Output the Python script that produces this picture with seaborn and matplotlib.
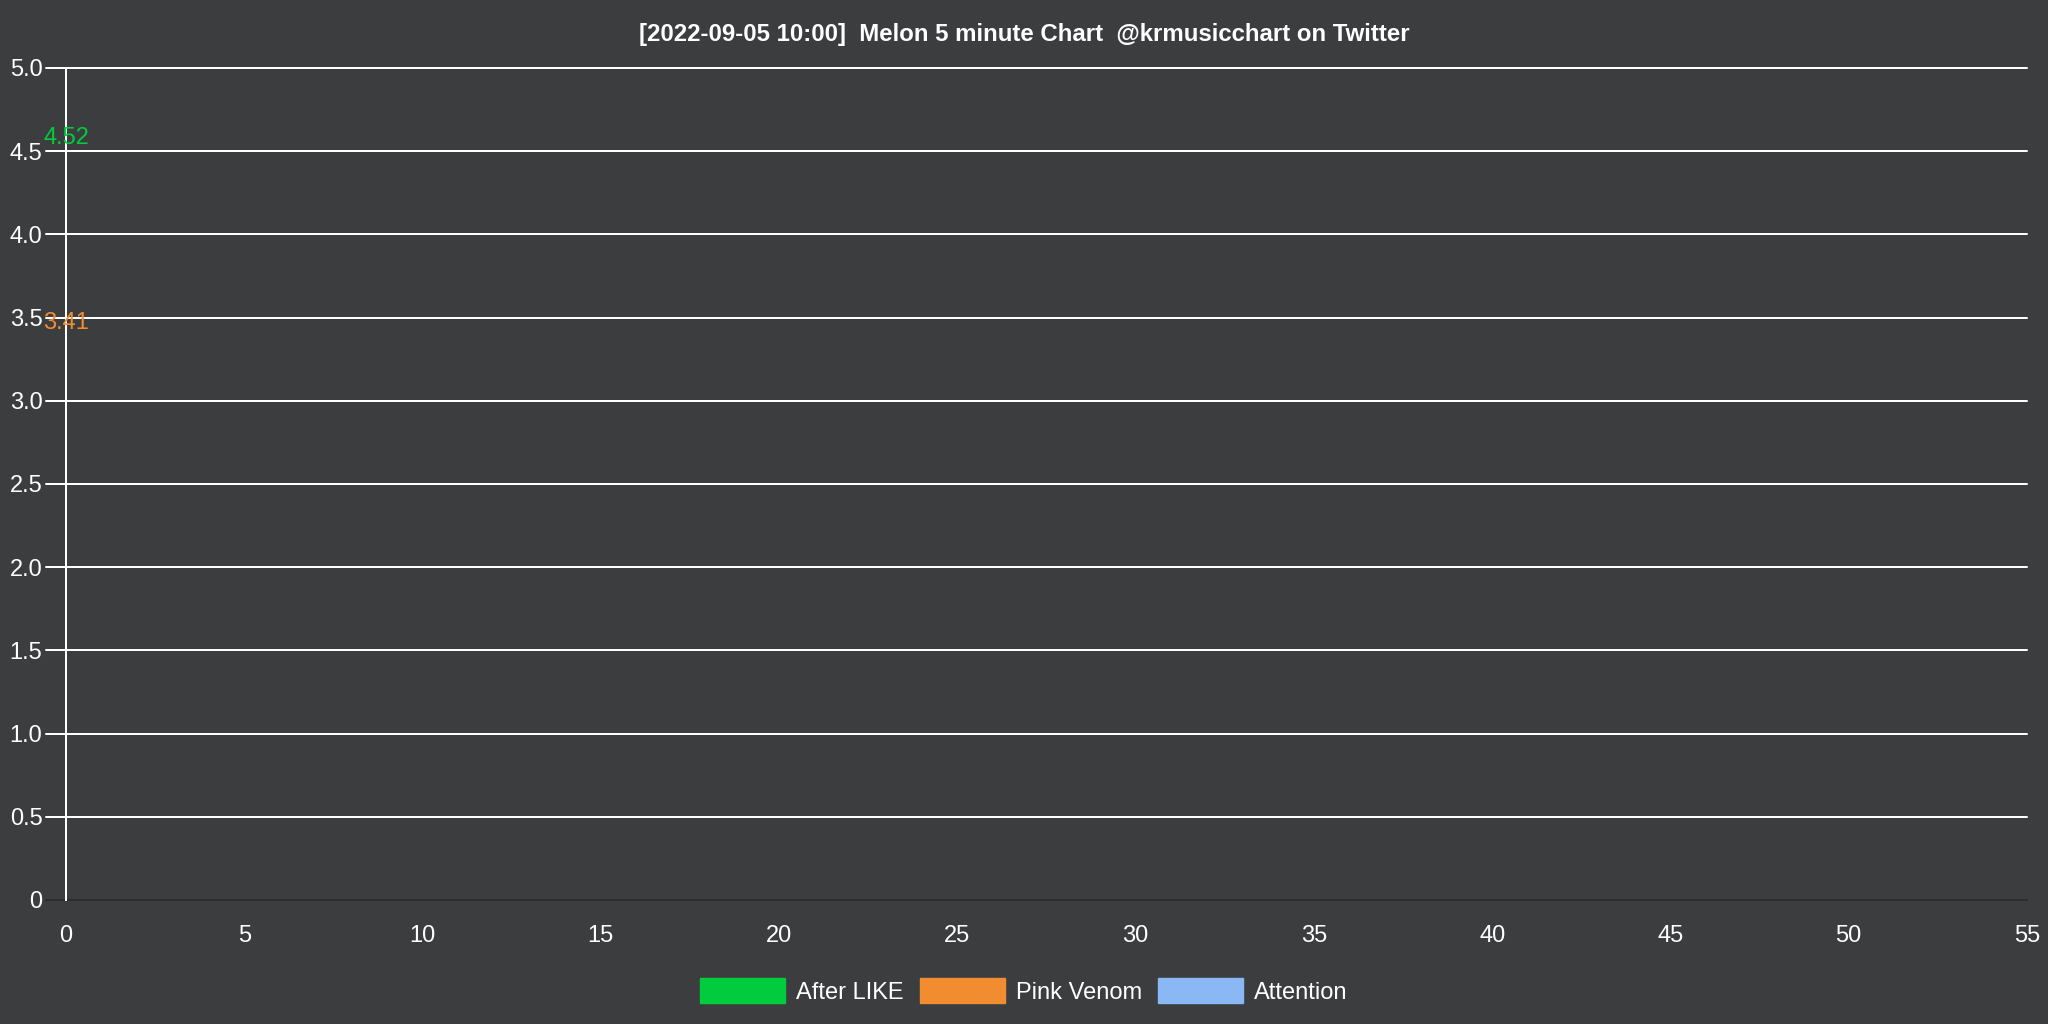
import matplotlib
matplotlib.use("Agg")
import matplotlib.pyplot as plt
from matplotlib.patches import Patch
import pandas as pd
import seaborn as sns

# data
songs = ["After LIKE", "Pink Venom", "Attention"]
colors = ["#00cc3e", "#f28c30", "#8ab8f5"]
minutes = [[0], [0], []]
values = [[4.52], [3.41], []]

title = "[2022-09-05 10:00]  Melon 5 minute Chart  @krmusicchart on Twitter"
yticks = [0, 0.5, 1.0, 1.5, 2.0, 2.5, 3.0, 3.5, 4.0, 4.5, 5.0]
ytick_labels = ["0", "0.5", "1.0", "1.5", "2.0", "2.5", "3.0", "3.5", "4.0", "4.5", "5.0"]
xticks = list(range(0, 56, 5))

bg = "#3c3d3f"
zero_line = "#2c2c2e"

rows = []
for s, xs, vs in zip(songs, minutes, values):
    for x, v in zip(xs, vs):
        rows.append({"song": s, "minute": x, "value": v})
df = pd.DataFrame(rows, columns=["song", "minute", "value"])

sns.set_theme(style="dark")
plt.rcParams["font.family"] = ["Liberation Sans", "DejaVu Sans"]

fig = plt.figure(figsize=(20.48, 10.24), dpi=100, facecolor=bg)
ax_w = (2027 - 66) / 2048
ax = fig.add_axes([66 / 2048, 1 - 900 / 1024, ax_w, (900 - 68) / 1024])
ax.set_facecolor(bg)

sns.lineplot(data=df, x="minute", y="value", hue="song", hue_order=songs,
             palette=dict(zip(songs, colors)), ax=ax, legend=False, linewidth=2)

for s, c, xs, vs in zip(songs, colors, minutes, values):
    for x, v in zip(xs, vs):
        ax.annotate(f"{v:.2f}", (x, v), xytext=(0, -1), textcoords="offset points",
                    ha="center", va="bottom", color=c, fontsize=17, zorder=5)

ax.set_xlim(0, 55)
ax.set_ylim(0, 5)
ax.set_xticks(xticks)
ax.set_xticklabels([str(t) for t in xticks])
ax.set_yticks(yticks)
ax.set_yticklabels(ytick_labels)
ax.set_xlabel("")
ax.set_ylabel("")

# grid lines run a little past the y axis, like tick marks
tick_frac = 20 / (ax_w * 2048)
for t in yticks:
    ax.axhline(t, xmin=-tick_frac, xmax=1, color="white" if t else zero_line,
               linewidth=1.44, zorder=1, clip_on=False)

for side in ["top", "right", "bottom"]:
    ax.spines[side].set_visible(False)
ax.spines["left"].set_color("white")
ax.spines["left"].set_linewidth(1.44)
ax.spines["left"].set_zorder(3)

ax.tick_params(axis="y", colors="white", labelsize=17, length=0, pad=17)
ax.tick_params(axis="x", colors="white", labelsize=17, length=0, pad=18)
ax.grid(False)

fig.text(0.5, 1 - 35 / 1024, title, ha="center", va="center",
         color="white", fontsize=17.3, fontweight="bold")

handles = [Patch(facecolor=c, edgecolor=c, label=s) for s, c in zip(songs, colors)]
leg = fig.legend(handles=handles, loc="center", bbox_to_anchor=(0.5, 1 - 991 / 1024),
                 ncol=3, frameon=False, fontsize=17, handlelength=3.6,
                 handleheight=1.27, handletextpad=0.45, columnspacing=0.7)
for t in leg.get_texts():
    t.set_color("white")

fig.savefig("out.png", dpi=100, facecolor=bg)
